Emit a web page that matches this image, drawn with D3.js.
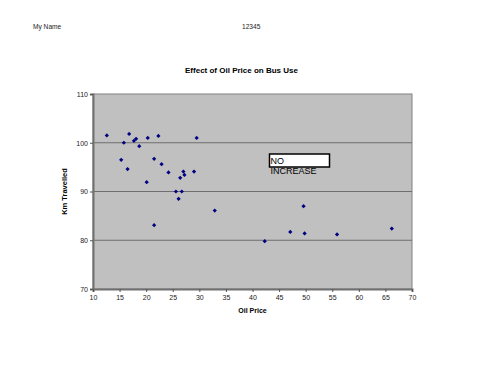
<!DOCTYPE html>
<html><head><meta charset="utf-8">
<script src="https://cdn.jsdelivr.net/npm/d3@7"></script>
<style>body{margin:0;background:#fff;}svg{display:block;font-family:"Liberation Sans",Arial,sans-serif;}</style>
</head><body>
<script>
const oilPrice = [12.6,16.8,15.8,17.7,18.1,18.7,20.3,22.3,29.5,15.3,16.5,21.5,22.9,24.2,26.4,27.0,27.2,29.0,20.1,25.6,26.7,26.1,21.5,32.9,42.3,47.1,49.6,49.8,55.9,66.2];
const kmTravelled = [101.5,101.8,100.0,100.4,100.8,99.3,101.0,101.4,101.0,96.5,94.6,96.7,95.6,93.9,92.8,94.1,93.4,94.1,91.9,90.0,90.0,88.5,83.1,86.1,79.8,81.7,87.0,81.4,81.2,82.4];
const xTicks = [10,15,20,25,30,35,40,45,50,55,60,65,70];
const yTicks = [70,80,90,100,110];
const headerTexts = ["My Name","12345"];
const chartTitle = "Effect of Oil Price on Bus Use";
const annotation = ["NO","INCREASE"];

const W=500,H=386;
const svg=d3.select("body").append("svg").attr("width",W).attr("height",H);
const pl=93,pr=412,pt=94,pb=289;
const x=d3.scaleLinear().domain([10,70]).range([pl,pr]);
const y=d3.scaleLinear().domain([70,110]).range([pb,pt]);

// header
svg.append("text").attr("x",33).attr("y",29).attr("font-size",6.6).attr("fill","#222").text(headerTexts[0]);
svg.append("text").attr("x",242).attr("y",29).attr("font-size",6.6).attr("fill","#222").text(headerTexts[1]);
// title
svg.append("text").attr("x",241.5).attr("y",72.5).attr("text-anchor","middle").attr("font-size",8).attr("font-weight","bold").attr("fill","#000").text(chartTitle);

// plot area
svg.append("rect").attr("x",pl).attr("y",pt).attr("width",pr-pl).attr("height",pb-pt).attr("fill","#c0c0c0").attr("stroke","#808080").attr("stroke-width",1);

// gridlines
svg.append("g").selectAll("line").data(yTicks.filter(d=>d>70&&d<110)).join("line")
  .attr("x1",pl).attr("x2",pr).attr("y1",d=>y(d)).attr("y2",d=>y(d)).attr("stroke","#6e6e6e").attr("stroke-width",1.2);

// axes
const yAxis=svg.append("g").attr("transform",`translate(${pl},0)`).call(d3.axisLeft(y).tickValues(yTicks).tickSize(3).tickPadding(2));
const xAxis=svg.append("g").attr("transform",`translate(0,${pb})`).call(d3.axisBottom(x).tickValues(xTicks).tickSize(3).tickPadding(3));
[yAxis,xAxis].forEach(a=>{
  a.selectAll("text").attr("font-size",7).attr("fill","#222").attr("font-family","Liberation Sans, Arial, sans-serif");
  a.selectAll("line").attr("stroke","#555");
  a.select(".domain").attr("stroke","#707070").attr("stroke-width",2);
});

// axis titles
svg.append("text").attr("transform",`translate(67,${(pt+pb)/2}) rotate(-90)`).attr("text-anchor","middle").attr("font-size",7.5).attr("font-weight","bold").attr("fill","#000").text("Km Travelled");
svg.append("text").attr("x",(pl+pr)/2).attr("y",313).attr("text-anchor","middle").attr("font-size",7).attr("font-weight","bold").attr("fill","#000").text("Oil Price");

// points (square diamonds)
svg.append("g").selectAll("path").data(oilPrice.map((d,i)=>[d,kmTravelled[i]])).join("path")
  .attr("transform",d=>`translate(${x(d[0])},${y(d[1])}) rotate(45)`)
  .attr("d",d3.symbol(d3.symbolSquare,9)())
  .attr("fill","#000080");

// annotation box
svg.append("rect").attr("x",269.5).attr("y",154).attr("width",60).attr("height",13).attr("fill","#fff").attr("stroke","#000").attr("stroke-width",1.5);
svg.append("text").attr("x",270.5).attr("y",164).attr("font-size",9).attr("fill","#000").text(annotation[0]);
svg.append("text").attr("x",270.5).attr("y",173.5).attr("font-size",9).attr("fill","#000").text(annotation[1]);
</script>
</body></html>
